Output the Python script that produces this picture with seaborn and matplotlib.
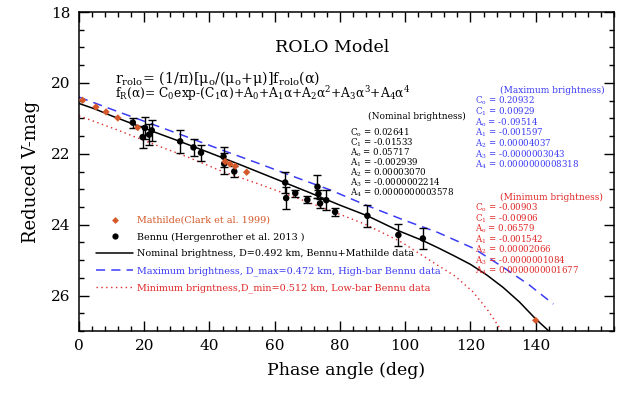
import numpy as np
import pandas as pd
import matplotlib
matplotlib.use("Agg")
import matplotlib.pyplot as plt
import seaborn as sns
from matplotlib.lines import Line2D
from matplotlib.ticker import MultipleLocator

# ---------------- data ----------------
mathilde_phase = [1.1, 5.2, 8.3, 11.9, 18.0, 44.8, 46.3, 47.9, 51.4, 140.0]
mathilde_mag = [20.49, 20.68, 20.82, 20.99, 21.26, 22.22, 22.29, 22.35, 22.52, 26.70]

bennu_phase = [16.5, 19.5, 20.2, 21.5, 22.3, 31.0, 35.1, 37.4, 44.3, 44.5, 47.6,
               63.2, 63.5, 66.3, 70.0, 73.1, 73.4, 73.9, 75.8, 78.5, 88.4, 97.9, 105.4]
bennu_mag = [21.12, 21.53, 21.27, 21.46, 21.34, 21.65, 21.82, 21.97, 22.08, 22.28, 22.50,
             22.81, 23.25, 23.11, 23.30, 22.93, 23.13, 23.40, 23.31, 23.64, 23.75, 24.29, 24.39]
bennu_err = [0.14, 0.30, 0.30, 0.30, 0.30, 0.32, 0.24, 0.22, 0.28, 0.30, 0.16,
             0.30, 0.30, 0.10, 0.10, 0.32, 0.12, 0.12, 0.28, 0.12, 0.31, 0.30, 0.29]

nom_phase = [0, 5, 10, 20, 30, 40, 50, 60, 70, 80, 88.4, 97.9, 105.4, 110, 115, 120,
             125, 130, 135, 140, 144.6]
nom_mag = [20.58, 20.74, 20.93, 21.28, 21.62, 21.97, 22.33, 22.70, 23.07, 23.45, 23.75,
           24.17, 24.45, 24.65, 24.88, 25.12, 25.42, 25.77, 26.18, 26.66, 27.05]

max_phase = [0, 11, 22, 33, 44, 55, 66, 77, 88, 99, 110, 121, 130, 138, 145.4]
max_mag = [20.40, 20.78, 21.15, 21.52, 21.90, 22.27, 22.65, 23.02, 23.45, 23.85, 24.22,
           24.67, 25.20, 25.70, 26.24]

min_phase = [0, 11, 22, 33, 44, 55, 66, 77, 88, 99, 110, 115.3, 120.8, 125.2, 129.6]
min_mag = [20.93, 21.30, 21.70, 22.08, 22.50, 22.85, 23.22, 23.60, 24.00, 24.50, 25.15,
           25.45, 25.90, 26.40, 27.00]

coef_names = ["C$_{\\rm o}$", "C$_{\\rm 1}$", "A$_{\\rm o}$", "A$_{\\rm 1}$",
              "A$_{\\rm 2}$", "A$_{\\rm 3}$", "A$_{\\rm 4}$"]
nom_coefs = ["0.02641", "-0.01533", "0.05717", "-0.002939", "0.00003070",
             "-0.0000002214", "0.0000000003578"]
max_coefs = ["0.20932", "0.00929", "-0.09514", "-0.001597", "0.00004037",
             "-0.0000003043", "0.0000000008318"]
min_coefs = ["-0.00903", "-0.00906", "0.06579", "-0.001542", "0.00002066",
             "-0.0000001084", "0.0000000001677"]

legend_labels = ["Mathilde(Clark et al. 1999)",
                 "Bennu (Hergenrother et al. 2013 )",
                 "Nominal brightness, D=0.492 km, Bennu+Mathilde data",
                 "Maximum brightness, D_max=0.472 km, High-bar Bennu data",
                 "Minimum brigntness,D_min=0.512 km, Low-bar Bennu data"]

x_ticks = [0, 20, 40, 60, 80, 100, 120, 140]
y_ticks = [18, 20, 22, 24, 26]

ORANGE = "#d4582a"
BLUE = "#3c3cf5"
RED = "#e02828"

# ---------------- style ----------------
sns.set_theme(style="ticks")
plt.rcParams["font.family"] = ["DejaVu Serif"]
plt.rcParams["mathtext.fontset"] = "dejavuserif"

W, H = 632, 393
fig = plt.figure(figsize=(W / 100, H / 100), dpi=100)
ax = fig.add_axes([79 / W, 1 - 331 / H, (614 - 79) / W, (331 - 12) / H])


def fp(x, y):
    return (x / W, 1 - y / H)


nom_df = pd.DataFrame({"phase": nom_phase, "mag": nom_mag})
max_df = pd.DataFrame({"phase": max_phase, "mag": max_mag})
min_df = pd.DataFrame({"phase": min_phase, "mag": min_mag})

sns.lineplot(data=nom_df, x="phase", y="mag", ax=ax, color="black", lw=1.1,
             estimator=None, sort=False)
sns.lineplot(data=max_df, x="phase", y="mag", ax=ax, color=BLUE, lw=1.1,
             estimator=None, sort=False, linestyle=(0, (6, 4)))
sns.lineplot(data=min_df, x="phase", y="mag", ax=ax, color=RED, lw=1.0,
             estimator=None, sort=False, linestyle=(0, (1, 2.5)))

ax.errorbar(bennu_phase, bennu_mag, yerr=bennu_err, fmt="none", ecolor="black",
            elinewidth=1.0, capsize=3, capthick=1.0, zorder=3)
sns.scatterplot(x=bennu_phase, y=bennu_mag, ax=ax, color="black", s=22,
                edgecolor="none", zorder=4)
sns.scatterplot(x=mathilde_phase, y=mathilde_mag, ax=ax, color=ORANGE, marker="D",
                s=14, edgecolor="none", zorder=5)

ax.set_xlim(0, 164)
ax.set_ylim(27, 18)
ax.set_xticks(x_ticks)
ax.set_yticks(y_ticks)
ax.xaxis.set_minor_locator(MultipleLocator(4))
ax.yaxis.set_minor_locator(MultipleLocator(0.5))
ax.tick_params(which="both", direction="in", top=True, right=True, color="black",
               width=1.0, labelsize=11, labelcolor="black", pad=6)
ax.tick_params(which="major", length=7)
ax.tick_params(which="minor", length=3.5)
for s in ax.spines.values():
    s.set_color("black")
    s.set_linewidth(1.1)
ax.set_xlabel("Phase angle (deg)", fontsize=12.5, color="black", labelpad=6)
ax.set_ylabel("Reduced V-mag", fontsize=13, color="black", labelpad=8)

# title and formulas
fig.text(*fp(332, 48), "ROLO Model", fontsize=12.5, ha="center", va="center", color="black")
fig.text(*fp(115, 78),
         "r$_{\\rm rolo}$= (1/π)[μ$_{\\rm o}$/(μ$_{\\rm o}$+μ)]f$_{\\rm rolo}$(α)",
         fontsize=10.3, ha="left", va="center", color="black")
fig.text(*fp(115, 94),
         "f$_{\\rm R}$(α)= C$_{\\rm 0}$exp-(C$_{\\rm 1}$α)+A$_{\\rm 0}$+A$_{\\rm 1}$α"
         "+A$_{\\rm 2}$α$^{2}$+A$_{\\rm 3}$α$^{3}$+A$_{\\rm 4}$α$^{4}$",
         fontsize=8.8, ha="left", va="center", color="black")

# coefficient blocks
def block(header, hx, hy, names, vals, x0, y0, dy, color):
    fig.text(*fp(hx, hy), header, fontsize=6.5, ha="left", va="center", color=color)
    for i, (n, v) in enumerate(zip(names, vals)):
        fig.text(*fp(x0, y0 + i * dy), f"{n} = {v}", fontsize=6.2, ha="left",
                 va="center", color=color)


block("(Nominal brightness)", 368, 116, coef_names, nom_coefs, 350, 133, 10.0, "black")
block("(Maximum brightness)", 500, 90, coef_names, max_coefs, 475, 101, 10.7, BLUE)
block("(Minimum brightness)", 500, 197, coef_names, min_coefs, 475, 208, 10.5, RED)

# legend
handles = [
    Line2D([], [], marker="D", color=ORANGE, ls="none", ms=3.5, mec="none"),
    Line2D([], [], marker="o", color="black", ls="none", ms=4.5, mec="none"),
    Line2D([], [], color="black", lw=1.1),
    Line2D([], [], color=BLUE, lw=1.1, ls=(0, (6, 4))),
    Line2D([], [], color=RED, lw=1.0, ls=(0, (1, 2.5))),
]
leg = ax.legend(handles, legend_labels, loc="upper left",
                bbox_to_anchor=fp(96, 216), bbox_transform=fig.transFigure,
                frameon=False, fontsize=6.9, labelspacing=0.8, handlelength=3.9,
                handletextpad=0.35, borderpad=0, borderaxespad=0, numpoints=1,
                labelcolor=[ORANGE, "black", "black", BLUE, RED])

fig.savefig("out.png", dpi=100)
